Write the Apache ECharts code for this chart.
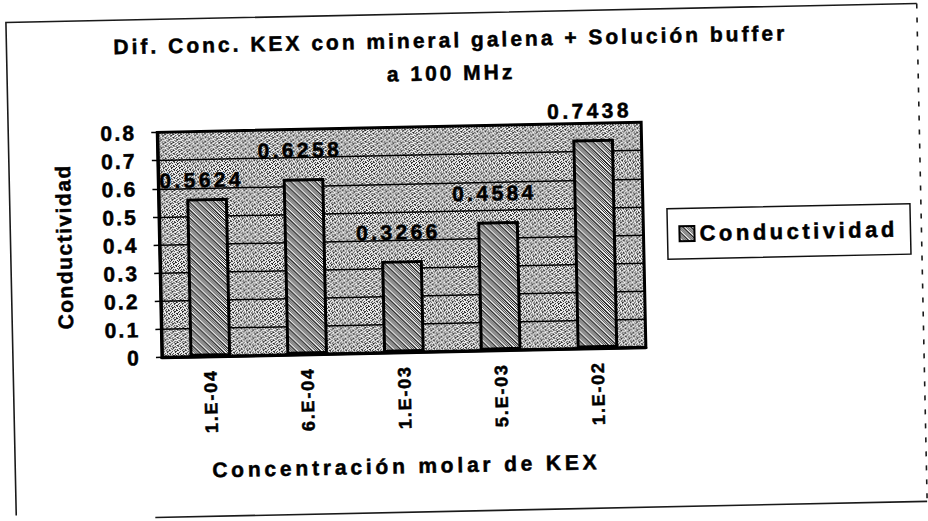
<!DOCTYPE html>
<html lang="es">
<head>
<meta charset="utf-8">
<title>Conductividad vs concentración de KEX</title>
<script src="https://cdn.jsdelivr.net/npm/echarts@6.0.0/dist/echarts.min.js"></script>
<style>
  html, body { margin: 0; padding: 0; background: #fff; overflow: hidden; }
  /* the printed sheet sits slightly askew */
  #chart { width: 928px; height: 521px; transform: rotate(-1.2deg); transform-origin: 464px 260.5px; }
</style>
</head>
<body>
<div id="chart"></div>
<script>
// ---- data ----
const categories = ['1.E-04', '6.E-04', '1.E-03', '5.E-03', '1.E-02'];
const conductividad = [0.5624, 0.6258, 0.3266, 0.4584, 0.7438];
const yMin = 0, yMax = 0.8, yStep = 0.1;

// ---- text ----
const titleLines = ['Dif. Conc. KEX con mineral galena + Solución buffer', 'a 100 MHz'];
const seriesName = 'Conductividad';
const xName = 'Concentración molar de KEX';
const yName = 'Conductividad';

// ---- style ----
const FONT = 'Liberation Sans, Arial, sans-serif';
const INK = '#000';
const labelOffsets = [[-5, 10], [-3, 0], [-3, 0], [-3, 0], [-3, 0]];

// small ordered-dither tiles used as pattern fills
function ditherTile(rows, ink, paper) {
  const c = document.createElement('canvas');
  c.width = rows[0].length;
  c.height = rows.length;
  const g = c.getContext('2d');
  g.fillStyle = paper;
  g.fillRect(0, 0, c.width, c.height);
  g.fillStyle = ink;
  rows.forEach((row, y) => {
    for (let x = 0; x < row.length; x++) if (row[x] === '1') g.fillRect(x, y, 1, 1);
  });
  return c;
}
const plotTile = ditherTile([
  '10001001',
  '00100110',
  '01000100',
  '10010001',
  '10100100',
  '00011010',
  '01010000',
  '00100101'
], '#222', '#f0f0f0');
const barTile = ditherTile([
  '10110010',
  '01011001',
  '10101100',
  '01010110',
  '00101011',
  '10010101',
  '11001010',
  '01100101'
], '#262626', '#f6f6f6');
const pattern = tile => ({ image: tile, repeat: 'repeat', imageWidth: tile.width, imageHeight: tile.height });

const chart = echarts.init(document.getElementById('chart'), null, { renderer: 'svg', width: 928, height: 521 });

// heavy printed lettering
const boldText = size => ({
  fontFamily: FONT, fontWeight: 'bold', fontSize: size, color: INK,
  textBorderColor: INK, textBorderWidth: 0.5
});

const option = {
  animation: false,
  backgroundColor: '#fff',
  title: {
    text: titleLines.join('\n'),
    left: 455,
    top: 23,
    textAlign: 'center',
    padding: 0,
    textStyle: Object.assign(boldText(21), { lineHeight: 33 })
  },
  legend: {
    data: [seriesName],
    orient: 'vertical',
    left: 668,
    top: 213,
    padding: [14, 58, 14, 11],
    borderColor: '#111',
    borderWidth: 1.5,
    icon: 'rect',
    itemWidth: 15,
    itemHeight: 15,
    itemStyle: { borderWidth: 2 },
    textStyle: boldText(22)
  },
  grid: {
    left: 160, right: 284, top: 126, bottom: 170,
    show: true,
    backgroundColor: pattern(plotTile),
    borderColor: INK,
    borderWidth: 3
  },
  xAxis: {
    type: 'category',
    data: categories,
    name: xName,
    nameLocation: 'middle',
    nameGap: 103,
    nameTextStyle: boldText(21),
    axisLine: { lineStyle: { color: INK, width: 3 } },
    axisTick: { length: 3, lineStyle: { color: INK, width: 2 } },
    axisLabel: Object.assign(boldText(18), { rotate: 90, margin: 13 })
  },
  yAxis: {
    type: 'value',
    min: yMin, max: yMax, interval: yStep,
    name: yName,
    nameLocation: 'middle',
    nameGap: 85,
    nameTextStyle: boldText(21),
    axisLine: { show: true, lineStyle: { color: INK, width: 3 } },
    axisTick: { show: true, length: 6, lineStyle: { color: INK, width: 1.5 } },
    axisLabel: Object.assign(boldText(21), {
      margin: 21,
      formatter: v => (v === 0 ? '0' : v.toFixed(1))
    }),
    splitLine: { show: true, lineStyle: { color: INK, width: 1.5 } }
  },
  series: [{
    name: seriesName,
    type: 'bar',
    barWidth: '43%',
    data: conductividad.map((v, i) => ({ value: v, label: { offset: labelOffsets[i] } })),
    itemStyle: { color: pattern(barTile), borderColor: INK, borderWidth: 3 },
    label: Object.assign(boldText(21), {
      show: true,
      position: 'top',
      distance: 18,
      formatter: p => p.value.toFixed(4)
    })
  }],
  graphic: [
    { type: 'polyline', silent: true, shape: { points: [[11, 506], [11, 13], [922, 13]] },
      style: { stroke: '#1a1a1a', lineWidth: 1.6, fill: null } },
    { type: 'line', silent: true, shape: { x1: 922, y1: 13, x2: 922, y2: 511 },
      style: { stroke: '#1a1a1a', lineWidth: 1.6, lineDash: [5, 9] } },
    { type: 'line', silent: true, shape: { x1: 150, y1: 511, x2: 922, y2: 511 },
      style: { stroke: '#1a1a1a', lineWidth: 1.6 } }
  ]
};

chart.setOption(option);

// wide tracking of the old printed typeface
function trackingFor(text, size) {
  if (/^0\.\d{4}$/.test(text)) return 3.4;        // value labels
  if (/E-/.test(text)) return 1.8;                // category labels
  if (/^\d(\.\d)?$/.test(text)) return 2.2;       // value-axis ticks
  if (text === 'Conductividad') return size > 21.5 ? 3.5 : 1.5;
  if (text === xName) return 3.8;
  return 3;                                       // title lines
}
function applyTracking() {
  document.querySelectorAll('#chart svg text').forEach(el => {
    const size = parseFloat(getComputedStyle(el).fontSize) || 0;
    el.setAttribute('letter-spacing', trackingFor(el.textContent.trim(), size) + 'px');
  });
}
applyTracking();
chart.on('finished', applyTracking);
</script>
</body>
</html>
